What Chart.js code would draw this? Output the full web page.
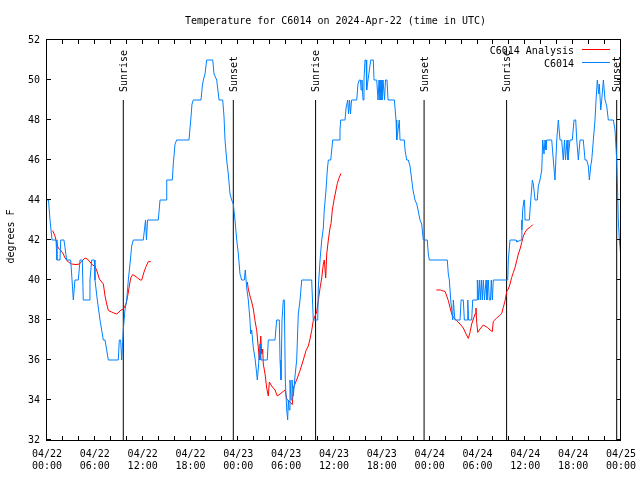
<!DOCTYPE html>
<html>
<head>
<meta charset="utf-8">
<script src="https://cdn.jsdelivr.net/npm/chart.js@4.4.1/dist/chart.umd.min.js"></script>
<style>
html,body{margin:0;padding:0;background:#fff;}
canvas{display:block;}
</style>
</head>
<body>
<canvas id="c" width="640" height="480"></canvas>
<script>
// ---- data (hours since 2024-04-22 00:00 UTC, degrees F) ----
const chartTitle = 'Temperature for C6014 on 2024-Apr-22 (time in UTC)';
const yAxisTitle = 'degrees F';
const seriesNames = ['C6014 Analysis', 'C6014'];

const xTickDates = ['04/22','04/22','04/22','04/22','04/23','04/23','04/23','04/23','04/24','04/24','04/24','04/24','04/25'];
const xTickTimes = ['00:00','06:00','12:00','18:00','00:00','06:00','12:00','18:00','00:00','06:00','12:00','18:00','00:00'];
const yMin = 32, yMax = 52, yStep = 2;
const xMin = 0, xMax = 72, xStep = 2;

const obsHours = [
 0,0.19,0.38,0.50,0.63,1.13,1.25,1.63,1.72,2.13,
 2.47,2.97,3.14,3.30,3.51,3.93,4.14,4.43,4.55,5.27,
 5.39,5.61,5.93,6.02,6.31,6.65,7.06,7.28,7.69,8.94,
 9.07,9.24,9.37,9.57,9.78,10.00,10.20,10.41,10.62,10.83,
 12.08,12.36,12.48,12.61,13.96,14.18,14.93,15.02,15.72,15.84,
 16.06,16.27,17.81,18.03,18.19,18.35,19.32,19.48,19.61,19.82,
 20.03,20.79,20.95,21.29,21.58,22.04,22.20,22.33,22.54,22.74,
 22.96,23.17,23.37,23.58,23.80,24.00,24.21,24.42,24.75,24.87,
 25.05,25.25,25.46,25.55,25.68,25.88,26.09,26.31,26.38,26.51,
 26.72,26.81,27.63,27.76,28.60,28.81,29.14,29.23,29.35,29.48,
 29.64,29.77,29.89,30.07,30.19,30.27,30.36,30.48,30.61,30.73,
 30.90,31.11,31.32,31.52,31.74,31.95,33.20,33.40,33.96,34.03,
 34.25,34.46,34.66,34.78,35.00,35.16,35.29,35.59,35.84,36.63,
 36.75,36.84,37.38,37.51,37.72,37.82,37.95,38.07,38.20,38.85,
 39.01,39.18,39.33,39.39,39.51,39.64,39.76,39.89,40.02,40.10,
 40.27,40.39,40.61,40.93,41.02,41.36,41.52,41.65,41.77,41.90,
 42.02,42.15,42.34,42.46,42.65,42.78,43.57,43.78,43.87,44.03,
 44.19,44.28,44.49,44.82,44.91,45.12,45.32,45.53,45.75,45.91,
 46.16,46.38,46.54,46.79,47.00,47.20,47.70,47.83,47.96,50.21,
 50.34,50.47,50.64,50.77,50.89,50.97,51.10,51.18,51.81,51.94,
 52.22,52.35,52.69,52.78,52.88,53.27,53.40,53.94,53.98,54.10,
 54.23,54.35,54.48,54.60,54.73,54.88,55.07,55.19,55.36,55.48,
 55.63,55.73,55.86,55.98,57.79,57.87,58.08,58.83,58.92,59.46,
 59.55,59.58,59.67,59.83,59.90,59.96,60.50,60.68,60.88,61.00,
 61.22,61.50,61.63,61.84,62.06,62.18,62.34,62.47,62.59,62.68,
 63.31,63.51,63.72,63.94,64.14,64.35,64.56,64.76,64.92,65.04,
 65.23,65.35,65.60,65.89,66.11,66.32,66.45,66.65,66.86,67.27,
 67.49,67.70,67.90,68.03,68.20,68.33,68.53,68.74,68.87,69.03,
 69.21,69.28,69.46,69.58,69.79,70.00,70.21,70.41,71.04,71.25,
 71.46,71.56,71.66,71.79,71.96
];
const obsTemps = [
 44,44,43,43,42,42,41,41,42,42,
 41,41,40,39,40,40,41,41,39,39,
 40,41,41,40,39,38,37,37,36,36,
 37,37,36,37.5,38.5,39,40,40.8,41.7,42,
 42,43,42,43,43,44,44,45,45,45.8,
 46.8,47,47,48,48.8,49,49,49.7,50,50.3,
 51,51,50.3,50,49,49,48.2,47,46,45.3,
 44.3,44,43.8,43,42,41.3,40.3,40,40,40.5,
 39.6,39,38,37.3,37.5,36.6,36.1,35.3,35,35.6,
 36.8,36,36,37,37,38,38,36,35,38,
 39,39,35,33.5,33,34,33.5,35,34,35,
 34.2,35.2,36,38.3,39,40,40,38,38,39.6,
 41,42,42.6,43.5,44.5,45.5,46,46,47,47,
 47.5,48,48,48.6,49,48.3,49,48.3,49,49,
 49.8,50,50,49.5,50,49,50,51,51,49.5,
 50,50,51,51,50,50,49,50,49,50,
 49,50,49,50,50,49,49,48,47,47.5,
 48,47,47,47,46.5,46,46,45.7,45,44.5,
 44,43.8,43.5,43,42.8,42,42,41.3,41,41,
 40.3,40,39,38.5,38,39,38.3,38,38,39,
 39,38,38,39,38,38,39,39,40,39,
 40,39,40,39,40,39,40,39,40,39,
 39,40,39,40,40,41,42,42,41.9,42,
 43,42.5,43.5,44,44,43,43,44,45,44.8,
 44,44,44.7,45,45.5,47,46.3,47,46.5,47,
 47,46,45,47,48,47,47,46,47,46,
 47,46,47,47,48,48,47,46,47,47,
 46,46,45.7,45,45.7,46,47,48,49,50,
 49.3,49.8,48.5,49,50,49,48.7,48,48,47.5,
 46,44.7,43,42,41.3
];

const anaHours = [
 0.71,1.00,1.20,1.40,1.70,2.05,2.26,2.67,3.10,3.64,
 4.05,4.35,4.77,5.06,5.40,5.69,6.02,6.30,6.57,6.86,
 7.07,7.28,7.49,7.70,8.10,8.40,8.74,9.03,9.28,9.58,
 9.91,10.12,10.33,10.50,10.75,11.04,11.38,11.67,11.88,12.17,
 12.42,12.71,13.01,19.00,
 25.13,25.25,25.46,25.68,25.88,26.09,26.31,26.51,26.63,26.81,
 26.93,27.06,27.13,27.35,27.56,27.76,27.89,28.19,28.60,28.89,
 29.23,29.64,29.86,30.07,30.48,30.77,30.90,31.11,31.40,31.74,
 32.15,32.49,32.78,32.99,33.20,33.40,33.62,33.83,34.03,34.25,
 34.46,34.66,34.78,34.96,35.09,35.29,35.50,35.63,35.79,36.00,
 36.25,36.42,36.63,36.88,42.00,
 48.84,49.34,49.51,49.93,50.14,50.34,50.55,50.77,50.97,51.39,
 51.81,52.22,52.56,52.85,53.06,53.27,53.48,53.69,53.81,53.90,
 54.03,54.31,54.73,55.23,55.57,55.86,55.98,56.41,56.74,57.04,
 57.24,57.46,57.67,57.87,58.08,58.29,58.50,58.71,58.92,59.12,
 59.34,59.55,59.76,59.96,60.25,60.59,60.93
];
const anaTemps = [
 42.47,42.2,41.9,41.6,41.5,41.3,41.1,40.9,40.8,40.77,
 40.8,40.93,41.1,41.05,40.9,40.75,40.7,40.4,40.05,39.9,
 39.8,39.2,38.8,38.47,38.4,38.35,38.3,38.4,38.5,38.55,
 38.8,39.2,39.7,40.1,40.27,40.2,40.1,40.0,40.0,40.4,
 40.67,40.92,40.92,null,
 39.9,39.55,39.2,38.9,38.55,37.97,37.47,36.6,36.0,37.2,
 36.3,36.55,35.8,35.3,34.6,34.2,34.9,34.7,34.5,34.2,
 34.3,34.43,34.5,34.05,33.9,33.77,34.6,34.8,35.1,35.47,
 36.0,36.47,36.7,37.05,37.47,37.97,38.2,38.4,38.97,39.6,
 40.1,40.8,41.0,40.1,41.3,42.0,42.6,42.83,43.5,44.0,
 44.5,44.83,45.1,45.33,null,
 39.5,39.5,39.47,39.43,39.2,38.97,38.63,38.3,38.13,37.97,
 37.8,37.6,37.3,37.08,37.38,37.8,38.05,38.3,38.6,37.88,
 37.38,37.55,37.75,37.63,37.5,37.42,37.93,38.1,38.22,38.33,
 38.63,38.97,39.43,39.55,39.8,40.13,40.38,40.63,40.97,41.3,
 41.55,41.88,42.2,42.38,42.55,42.63,42.77
];

const sunHours = [9.57, 23.37, 33.69, 47.30, 57.65, 71.46];
const sunLabels = ['Sunrise','Sunset','Sunrise','Sunset','Sunrise','Sunset'];
const sunLineTop = 49;

// ---- styles ----
const FONT = '"DejaVu Sans Mono", "Liberation Mono", monospace';
const BLUE = 'rgb(0,128,255)';
const RED = 'rgb(255,0,0)';

const toPts = (hs, ts) => hs.map((h, i) => ({x: h, y: ts[i]}));

const sunSets = sunHours.map(h => ({
  label: '_sun',
  data: [{x: h, y: yMin}, {x: h, y: sunLineTop}],
  borderColor: '#000', borderWidth: 1, pointRadius: 0, fill: false
}));

const decor = {
  id: 'decor',
  afterDatasetsDraw(chart) {
    const ctx = chart.ctx, a = chart.chartArea, xs = chart.scales.x, ys = chart.scales.y;
    ctx.save();
    ctx.strokeStyle = '#000';
    ctx.lineWidth = 1;
    // frame
    ctx.strokeRect(Math.round(a.left) - 0.5, Math.round(a.top) - 0.5,
                   Math.round(a.right - a.left), Math.round(a.bottom - a.top) + 1);
    ctx.beginPath();
    const TL = 4;
    for (let v = yMin; v <= yMax; v += yStep) {
      const py = Math.round(ys.getPixelForValue(v)) - 0.5;
      ctx.moveTo(a.left, py); ctx.lineTo(a.left + TL, py);
      ctx.moveTo(a.right, py); ctx.lineTo(a.right - TL, py);
    }
    for (let v = xMin; v <= xMax; v += xStep) {
      const px = Math.round(xs.getPixelForValue(v)) - 0.5;
      ctx.moveTo(px, a.bottom); ctx.lineTo(px, a.bottom - TL);
      ctx.moveTo(px, a.top); ctx.lineTo(px, a.top + TL);
    }
    ctx.stroke();

    ctx.fillStyle = '#000';
    ctx.font = '10px ' + FONT;
    // sunrise / sunset labels
    const topPx = ys.getPixelForValue(sunLineTop);
    sunHours.forEach((h, i) => {
      const px = xs.getPixelForValue(h);
      ctx.save();
      ctx.translate(px + 1, topPx - 8);
      ctx.rotate(-Math.PI / 2);
      ctx.textAlign = 'left';
      ctx.textBaseline = 'middle';
      ctx.fillText(sunLabels[i], 0, 0);
      ctx.restore();
    });

    // legend
    ctx.textAlign = 'right';
    ctx.textBaseline = 'middle';
    ctx.fillText(seriesNames[0], 574, 51);
    ctx.fillText(seriesNames[1], 574, 64);
    ctx.beginPath(); ctx.strokeStyle = RED; ctx.moveTo(582, 49.5); ctx.lineTo(610, 49.5); ctx.stroke();
    ctx.beginPath(); ctx.strokeStyle = BLUE; ctx.moveTo(582, 62.5); ctx.lineTo(610, 62.5); ctx.stroke();

    // title
    ctx.textAlign = 'center';
    ctx.textBaseline = 'alphabetic';
    ctx.fillText(chartTitle, 335.5, 24);

    // y axis title
    ctx.save();
    ctx.translate(14, 236.5);
    ctx.rotate(-Math.PI / 2);
    ctx.textAlign = 'center';
    ctx.textBaseline = 'alphabetic';
    ctx.fillText(yAxisTitle, 0, 0);
    ctx.restore();

    ctx.restore();
  }
};

new Chart(document.getElementById('c'), {
  type: 'line',
  data: {
    datasets: [
      { label: seriesNames[1], data: toPts(obsHours, obsTemps), borderColor: BLUE,
        borderWidth: 1, pointRadius: 0, fill: false, tension: 0 },
      { label: seriesNames[0], data: toPts(anaHours, anaTemps), borderColor: RED,
        borderWidth: 1, pointRadius: 0, fill: false, tension: 0, spanGaps: false },
      ...sunSets
    ]
  },
  options: {
    responsive: false,
    animation: false,
    devicePixelRatio: 1,
    layout: { padding: { left: 0, right: 19, top: 40, bottom: 0 } },
    plugins: { legend: { display: false }, title: { display: false }, tooltip: { enabled: false } },
    scales: {
      x: {
        type: 'linear', min: xMin, max: xMax,
        grid: { display: false, drawTicks: false, tickLength: 0 },
        border: { display: false },
        afterFit: s => { s.height = 40; s.paddingLeft = 0; s.paddingRight = 0; },
        ticks: {
          stepSize: xStep, autoSkip: false, maxRotation: 0, minRotation: 0, padding: 8,
          color: '#000', font: { family: FONT, size: 10, lineHeight: 1.25 },
          callback: v => (v % 6 === 0) ? [xTickDates[v / 6], xTickTimes[v / 6]] : ''
        }
      },
      y: {
        min: yMin, max: yMax,
        grid: { display: false, drawTicks: false, tickLength: 0 },
        border: { display: false },
        afterFit: s => { s.width = 47; s.paddingTop = 0; s.paddingBottom = 0; },
        ticks: { stepSize: yStep, padding: 7, color: '#000', font: { family: FONT, size: 10 } }
      }
    }
  },
  plugins: [decor]
});
</script>
</body>
</html>
